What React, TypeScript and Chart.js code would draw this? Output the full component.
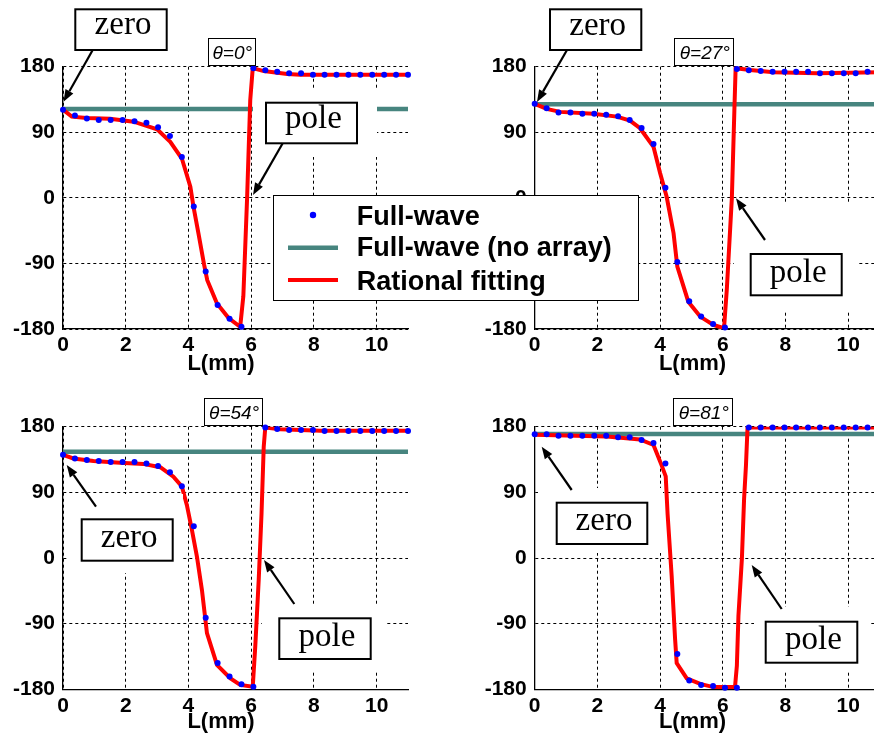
import React, { useEffect, useRef } from "react";
import { Chart, registerables } from "chart.js";

Chart.register(...registerables);

// Line length L (mm) at which the full-wave phase was sampled
const L_MM = [0, 0.38, 0.76, 1.14, 1.52, 1.9, 2.28, 2.66, 3.03, 3.41, 3.79, 4.17, 4.55, 4.93, 5.31, 5.69, 6.07, 6.45, 6.83, 7.21, 7.59, 7.97, 8.34, 8.72, 9.1, 9.48, 9.86, 10.24, 10.62, 11.0];

const X_MIN = 0;
const X_MAX = 11;
const X_TICKS = [0, 2, 4, 6, 8, 10];
const Y_TICKS = [-180, -90, 0, 90, 180];
const THETA_DEG = [0, 27, 54, 81];

// Full-wave phase (deg) for each incidence angle
const FULL_WAVE_0 = [121, 113, 109, 107, 107, 107, 105, 103, 97, 85, 56, -12, -101, -147, -166, -177, 178, 175, 173, 171, 171, 169, 169, 169, 169, 169, 169, 169, 169, 169];
const FULL_WAVE_27 = [129, 123, 117, 117, 115.5, 115.5, 114, 112, 107, 96, 74, 14, -88, -142, -163, -173, -178, 177, 175, 174, 173, 173, 173, 173, 171, 171, 171, 171, 173, 173];
const FULL_WAVE_54 = [141.5, 136.5, 134.5, 133, 131.5, 131.5, 131.5, 129.5, 126, 117.5, 98.5, 43.5, -82, -144, -162.5, -173, -176.5, 179, 177, 175.5, 175.5, 175.5, 174, 174, 174, 174, 174, 174, 174, 174];
const FULL_WAVE_81 = [169.5, 169.5, 167.7, 167.7, 167.7, 167.7, 167.7, 165.4, 165.4, 161.7, 157.5, 129.5, -131.5, -168, -174, -175.5, -178, -178, 179, 179, 179, 179, 179, 179, 179, 179, 179, 179, 179, 179];

// Phase without the array (deg), constant over L
const NO_ARRAY = [122, 128.5, 145.7, 170];

// Rational fitting curves
const FIT_L_0 = [0, 0.28, 0.76, 1.5, 2.25, 3.0, 3.42, 3.79, 4.06, 4.16, 4.32, 4.5, 4.6, 4.91, 5.28, 5.65, 5.75, 5.87, 5.97, 6.05, 6.4, 7.15, 7.57, 11];
const FIT_PHASE_0 = [121, 111.4, 109.6, 108.6, 104.5, 94, 77, 54, 15.3, -12, -49, -92, -113, -145, -165, -177, -135, 0, 134, 178, 174, 170, 169, 169];
const FIT_L_27 = [0, 0.38, 0.81, 1.87, 2.62, 3.04, 3.36, 3.79, 4.0, 4.21, 4.43, 4.55, 4.9, 5.28, 5.7, 6.04, 6.13, 6.29, 6.37, 6.41, 6.87, 7.62, 9.0, 11];
const FIT_PHASE_27 = [129, 122, 118, 115.5, 111.5, 106, 95.5, 70, 34, 1.5, -48.5, -94.5, -142.5, -163, -174.5, -179, -125, 0, 120, 178, 175.5, 172.5, 171, 172.5];
const FIT_L_54 = [0, 0.33, 0.97, 1.82, 2.56, 3.1, 3.52, 3.79, 3.95, 4.11, 4.27, 4.43, 4.59, 4.91, 5.34, 5.65, 6.05, 6.13, 6.24, 6.33, 6.4, 6.45, 6.93, 8.21, 11];
const FIT_PHASE_54 = [141.5, 136.5, 133, 130.5, 129, 124.5, 111.5, 98, 72.5, 38.5, 2, -44, -103, -146.5, -165, -174, -176.5, -121.5, -30, 61, 152.5, 179, 176.5, 174.5, 174.5];
const FIT_L_81 = [0, 2.3, 3.36, 3.79, 4.05, 4.18, 4.24, 4.37, 4.48, 4.53, 4.85, 5.28, 5.7, 6.39, 6.45, 6.5, 6.61, 6.68, 6.74, 6.79, 11];
const FIT_PHASE_81 = [169, 166.5, 162.5, 155, 127, 112, 60, -25, -112, -144, -165, -172.5, -177, -177, -147.5, -79, -1, 81, 127, 179, 179];

const LEGEND_LABELS = ["Full-wave", "Full-wave (no array)", "Rational fitting"];
const X_LABEL = "L(mm)";

const BLUE = "#0000ff";
const RED = "#ff0000";
const TEAL = "#47857f";

const CANVAS_W = 890;
const CANVAS_H = 735;
const Y_AXIS_W = 60;
const X_AXIS_H = 40;
const SANS = "'Liberation Sans', Arial, sans-serif";
const SERIF = "'Liberation Serif', 'Times New Roman', serif";

type Note = { text: string; box: number[]; base: number; tail: number[]; tip: number[] };
type Panel = {
  area: { left: number; top: number; right: number; bottom: number };
  dots: number[];
  fitL: number[];
  fitPhase: number[];
  noArray: number;
  theta: number;
  thetaBox: number[];
  xLabel: number[];
  patches: number[][];
  notes: Note[];
  legend?: boolean;
};

const PANELS: Panel[] = [
  {
    area: { left: 63, top: 66.7, right: 408, bottom: 329 },
    dots: FULL_WAVE_0, fitL: FIT_L_0, fitPhase: FIT_PHASE_0, noArray: NO_ARRAY[0], theta: THETA_DEG[0],
    thetaBox: [207.7, 38.3, 47.3, 27.4],
    xLabel: [221, 370],
    patches: [[253, 89, 124, 68]],
    notes: [
      { text: "zero", box: [75.3, 9.3, 91.4, 40.7], base: 25, tail: [92.7, 50], tip: [63.5, 101.7] },
      { text: "pole", box: [266, 102.7, 91, 40.6], base: 25.5, tail: [282.7, 143.3], tip: [253, 195] },
    ],
    legend: true,
  },
  {
    area: { left: 534.7, top: 66.7, right: 879.5, bottom: 329 },
    dots: FULL_WAVE_27, fitL: FIT_L_27, fitPhase: FIT_PHASE_27, noArray: NO_ARRAY[1], theta: THETA_DEG[1],
    thetaBox: [674.3, 38.3, 59, 27.4],
    xLabel: [692.5, 370],
    patches: [[734, 203, 123, 107]],
    notes: [
      { text: "zero", box: [550, 9.3, 91.3, 40.7], base: 26, tail: [567, 50], tip: [537, 102] },
      { text: "pole", box: [750.7, 254, 91, 41.3], base: 28, tail: [765, 240], tip: [736, 198.3] },
    ],
  },
  {
    area: { left: 63, top: 426.7, right: 408, bottom: 689.3 },
    dots: FULL_WAVE_54, fitL: FIT_L_54, fitPhase: FIT_PHASE_54, noArray: NO_ARRAY[2], theta: THETA_DEG[2],
    thetaBox: [204, 398.3, 58.3, 27.4],
    xLabel: [221, 727.5],
    patches: [[67, 494, 116, 79], [262, 604, 125, 66]],
    notes: [
      { text: "zero", box: [81.7, 519.3, 91, 41.4], base: 27.5, tail: [96, 506.7], tip: [66.7, 465] },
      { text: "pole", box: [279.3, 618.3, 91.4, 40.7], base: 28, tail: [294.3, 604], tip: [264, 560] },
    ],
  },
  {
    area: { left: 534.7, top: 426.7, right: 879.5, bottom: 689.3 },
    dots: FULL_WAVE_81, fitL: FIT_L_81, fitPhase: FIT_PHASE_81, noArray: NO_ARRAY[3], theta: THETA_DEG[3],
    thetaBox: [673.3, 398.3, 59, 27.4],
    xLabel: [692.5, 727.5],
    patches: [[538, 488, 125, 65], [754, 607, 116, 65]],
    notes: [
      { text: "zero", box: [556.7, 502.7, 90.6, 41.3], base: 27.5, tail: [571.7, 490], tip: [541.7, 446.7] },
      { text: "pole", box: [765.7, 621.7, 91.6, 41], base: 27.5, tail: [781.7, 609], tip: [751.7, 565] },
    ],
  },
];

// Stacking order of the canvases: the first panel goes last so its legend sits on top
const DRAW_ORDER = [1, 2, 3, 0];

function drawArrow(ctx: CanvasRenderingContext2D, tail: number[], tip: number[]) {
  const [x1, y1] = tail;
  const [x2, y2] = tip;
  const ang = Math.atan2(y2 - y1, x2 - x1);
  const head = 12;
  const half = 4.5;
  const bx = x2 - head * Math.cos(ang);
  const by = y2 - head * Math.sin(ang);
  ctx.strokeStyle = "#000";
  ctx.lineWidth = 2.2;
  ctx.beginPath();
  ctx.moveTo(x1, y1);
  ctx.lineTo(bx, by);
  ctx.stroke();
  ctx.fillStyle = "#000";
  ctx.beginPath();
  ctx.moveTo(x2, y2);
  ctx.lineTo(bx + half * Math.sin(ang), by - half * Math.cos(ang));
  ctx.lineTo(bx - half * Math.sin(ang), by + half * Math.cos(ang));
  ctx.closePath();
  ctx.fill();
}

function drawLegend(ctx: CanvasRenderingContext2D) {
  const [x, y, w, h] = [273, 195, 365, 105];
  ctx.fillStyle = "#fff";
  ctx.fillRect(x, y, w, h);
  ctx.strokeStyle = "#000";
  ctx.lineWidth = 1;
  ctx.strokeRect(x + 0.5, y + 0.5, w, h);
  const rows = [215, 247.7, 280];
  const baselines = [225, 255.5, 290];
  // dot marker
  ctx.fillStyle = BLUE;
  ctx.beginPath();
  ctx.arc(313, rows[0], 3.2, 0, Math.PI * 2);
  ctx.fill();
  // line markers
  ctx.lineWidth = 4.5;
  ctx.strokeStyle = TEAL;
  ctx.beginPath();
  ctx.moveTo(288, rows[1]);
  ctx.lineTo(338, rows[1]);
  ctx.stroke();
  ctx.lineWidth = 4;
  ctx.strokeStyle = RED;
  ctx.beginPath();
  ctx.moveTo(288, rows[2]);
  ctx.lineTo(338, rows[2]);
  ctx.stroke();
  ctx.fillStyle = "#000";
  ctx.font = `bold 27px ${SANS}`;
  ctx.textAlign = "left";
  ctx.textBaseline = "alphabetic";
  LEGEND_LABELS.forEach((label, i) => ctx.fillText(label, 356.7, baselines[i]));
}

function makeOverlay(p: Panel) {
  return {
    id: "panelOverlay",
    afterDraw(chart: Chart) {
      const ctx = chart.ctx;
      ctx.save();
      // cleared backdrops behind the zero / pole labels
      ctx.fillStyle = "#fff";
      p.patches.forEach(([x, y, w, h]) => ctx.fillRect(x, y, w, h));

      // incidence-angle tag
      const [tx, ty, tw, th] = p.thetaBox;
      ctx.fillStyle = "#fff";
      ctx.fillRect(tx, ty, tw, th);
      ctx.strokeStyle = "#000";
      ctx.lineWidth = 1;
      ctx.strokeRect(Math.round(tx) + 0.5, Math.round(ty) + 0.5, Math.round(tw), Math.round(th));
      ctx.fillStyle = "#000";
      ctx.font = `italic 19px ${SANS}`;
      ctx.textAlign = "center";
      ctx.textBaseline = "alphabetic";
      ctx.fillText(`θ=${p.theta}°`, tx + tw / 2 + 1, ty + 20.7);

      // zero / pole callouts
      p.notes.forEach((n) => {
        const [bx, by, bw, bh] = n.box;
        ctx.fillStyle = "#fff";
        ctx.fillRect(bx, by, bw, bh);
        ctx.strokeStyle = "#000";
        ctx.lineWidth = 2;
        ctx.strokeRect(bx, by, bw, bh);
        ctx.fillStyle = "#000";
        ctx.font = `33px ${SERIF}`;
        ctx.textAlign = "center";
        ctx.textBaseline = "alphabetic";
        ctx.fillText(n.text, bx + bw / 2 + 2, by + n.base);
        drawArrow(ctx, n.tail, n.tip);
      });

      // axis label
      ctx.fillStyle = "#000";
      ctx.font = `bold 22px ${SANS}`;
      ctx.textAlign = "center";
      ctx.textBaseline = "alphabetic";
      ctx.fillText(X_LABEL, p.xLabel[0], p.xLabel[1]);

      if (p.legend) drawLegend(ctx);
      ctx.restore();
    },
  };
}

function PanelChart({ panel }: { panel: Panel }) {
  const ref = useRef<HTMLCanvasElement | null>(null);

  useEffect(() => {
    if (!ref.current) return;
    const tickFont = { family: SANS, size: 21, weight: "bold" as const };
    const { left, top, right, bottom } = panel.area;
    const chart = new Chart(ref.current, {
      type: "scatter",
      data: {
        datasets: [
          {
            label: LEGEND_LABELS[0],
            data: L_MM.map((x, i) => ({ x, y: panel.dots[i] })),
            showLine: false,
            pointRadius: 3,
            pointBorderWidth: 0,
            pointBackgroundColor: BLUE,
            clip: false,
          },
          {
            label: LEGEND_LABELS[2],
            data: panel.fitL.map((x, i) => ({ x, y: panel.fitPhase[i] })),
            showLine: true,
            borderColor: RED,
            borderWidth: 4,
            pointRadius: 0,
            tension: 0,
          },
          {
            label: LEGEND_LABELS[1],
            data: [
              { x: X_MIN, y: panel.noArray },
              { x: X_MAX, y: panel.noArray },
            ],
            showLine: true,
            borderColor: TEAL,
            borderWidth: 4.5,
            pointRadius: 0,
          },
        ],
      },
      options: {
        responsive: false,
        animation: false,
        devicePixelRatio: 1,
        events: [],
        layout: {
          padding: {
            left: left - Y_AXIS_W,
            top,
            right: CANVAS_W - right,
            bottom: CANVAS_H - bottom - X_AXIS_H,
          },
        },
        plugins: { legend: { display: false }, tooltip: { enabled: false } },
        scales: {
          x: {
            type: "linear",
            min: X_MIN,
            max: X_MAX,
            afterBuildTicks: (axis: any) => {
              axis.ticks = X_TICKS.map((value) => ({ value }));
            },
            afterFit: (axis: any) => {
              axis.height = X_AXIS_H;
            },
            grid: { color: "#000", lineWidth: 1, drawTicks: false },
            border: { display: true, color: "#000", width: 1.3, dash: [3, 3] },
            ticks: { color: "#000", font: tickFont, padding: 4, maxRotation: 0, autoSkip: false },
          },
          y: {
            type: "linear",
            min: Y_TICKS[0],
            max: Y_TICKS[Y_TICKS.length - 1],
            afterBuildTicks: (axis: any) => {
              axis.ticks = Y_TICKS.map((value) => ({ value }));
            },
            afterFit: (axis: any) => {
              axis.width = Y_AXIS_W;
            },
            grid: { color: "#000", lineWidth: 1, drawTicks: false },
            border: { display: true, color: "#000", width: 1.3, dash: [3, 3] },
            ticks: { color: "#000", font: tickFont, padding: 8, autoSkip: false },
          },
        },
      },
      plugins: [makeOverlay(panel)],
    } as any);
    return () => chart.destroy();
  }, [panel]);

  return (
    <canvas
      ref={ref}
      width={CANVAS_W}
      height={CANVAS_H}
      style={{ position: "absolute", left: 0, top: 0, width: CANVAS_W, height: CANVAS_H }}
    />
  );
}

export default function App() {
  return (
    <div
      style={{
        position: "absolute",
        left: 0,
        top: 0,
        width: 874,
        height: 735,
        overflow: "hidden",
        background: "#fff",
      }}
    >
      {DRAW_ORDER.map((i) => (
        <PanelChart key={i} panel={PANELS[i]} />
      ))}
    </div>
  );
}
